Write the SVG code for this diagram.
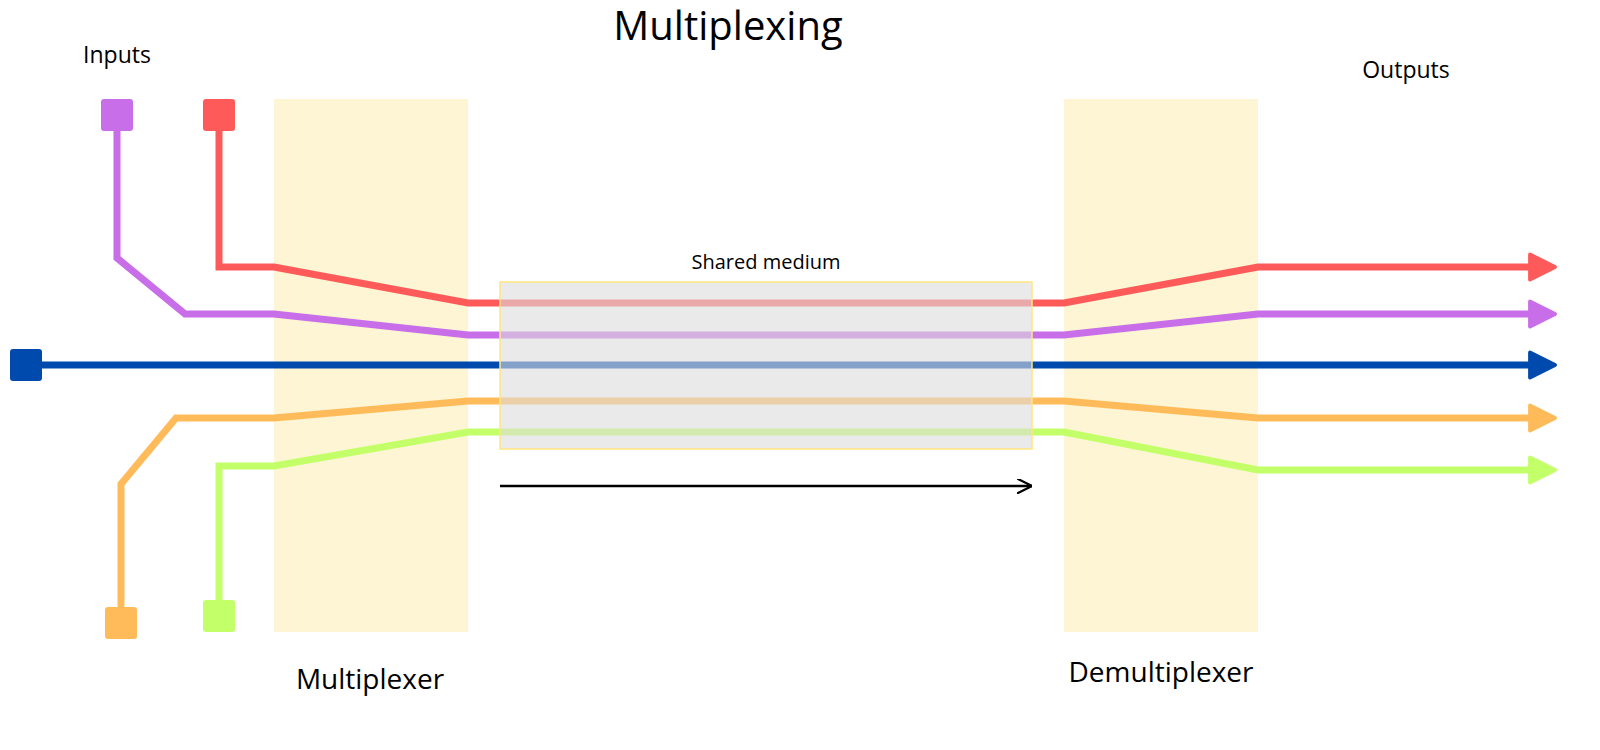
<svg xmlns="http://www.w3.org/2000/svg" width="1600" height="750" viewBox="0 0 1600 750">
<style>
text{font-family:"Open Sans","Noto Sans",sans-serif;fill:#000;text-anchor:middle}
.ln{fill:none;stroke-width:7;stroke-linejoin:miter}
.box{fill:#fdf5d3}
</style>
<defs>
<marker id="ah" viewBox="-1 -1 12 12" refX="2" refY="5" markerWidth="4.3" markerHeight="4.3" orient="auto" markerUnits="strokeWidth"><path d="M0,0 L10,5 L0,10 Z" fill="context-stroke" stroke="context-stroke" stroke-width="1.5" stroke-linejoin="round"/></marker>
<marker id="bk" viewBox="0 0 10 10" refX="10" refY="5" markerWidth="6" markerHeight="6" orient="auto" markerUnits="strokeWidth"><path d="M0,0 L10,5 L0,10" fill="none" stroke="#000" stroke-width="1.5"/></marker>
</defs>
<rect width="1600" height="750" fill="#fff"/>
<text x="728" y="40" font-size="40">Multiplexing</text>
<text x="117" y="63" font-size="23">Inputs</text>
<text x="1406" y="78" font-size="23">Outputs</text>
<g id="mux"><rect class="box" x="274" y="99" width="194" height="533"/><text x="370" y="689" font-size="28">Multiplexer</text></g>
<g id="demux"><rect class="box" x="1064" y="99" width="194" height="533"/><text x="1161" y="682" font-size="28">Demultiplexer</text></g>
<g id="connectors">
<path class="ln" stroke="#ff5a5a" marker-end="url(#ah)" d="M219,131 V267 H274 L468,303 H1064 L1258,267 H1535"/>
<path class="ln" stroke="#c86ee8" marker-end="url(#ah)" d="M117,131 V258 L185,314 H274 L468,335 H1064 L1258,314 H1535"/>
<path class="ln" stroke="#004aad" marker-end="url(#ah)" d="M42,365 H1535"/>
<path class="ln" stroke="#ffbb5a" marker-end="url(#ah)" d="M121,607 V484 L176,418 H274 L468,401 H1064 L1258,418 H1535"/>
<path class="ln" stroke="#c3ff68" marker-end="url(#ah)" d="M219,600 V466 H274 L468,432 H1064 L1258,470 H1535"/>
<path d="M500,486 H1032" stroke="#000" stroke-width="2.5" fill="none" marker-end="url(#bk)"/>
</g>
<g id="inputs">
<rect x="101" y="99" width="32" height="32" rx="3" fill="#c86ee8"/>
<rect x="203" y="99" width="32" height="32" rx="3" fill="#ff5a5a"/>
<rect x="10" y="349" width="32" height="32" rx="3" fill="#004aad"/>
<rect x="105" y="607" width="32" height="32" rx="3" fill="#ffbb5a"/>
<rect x="203" y="600" width="32" height="32" rx="3" fill="#c3ff68"/>
</g>
<g id="medium"><rect x="500" y="282" width="532" height="167" fill="#dcdcdc" fill-opacity="0.6" stroke="#ffe680" stroke-width="1.5"/><text x="766" y="269" font-size="20">Shared medium</text></g>
</svg>
